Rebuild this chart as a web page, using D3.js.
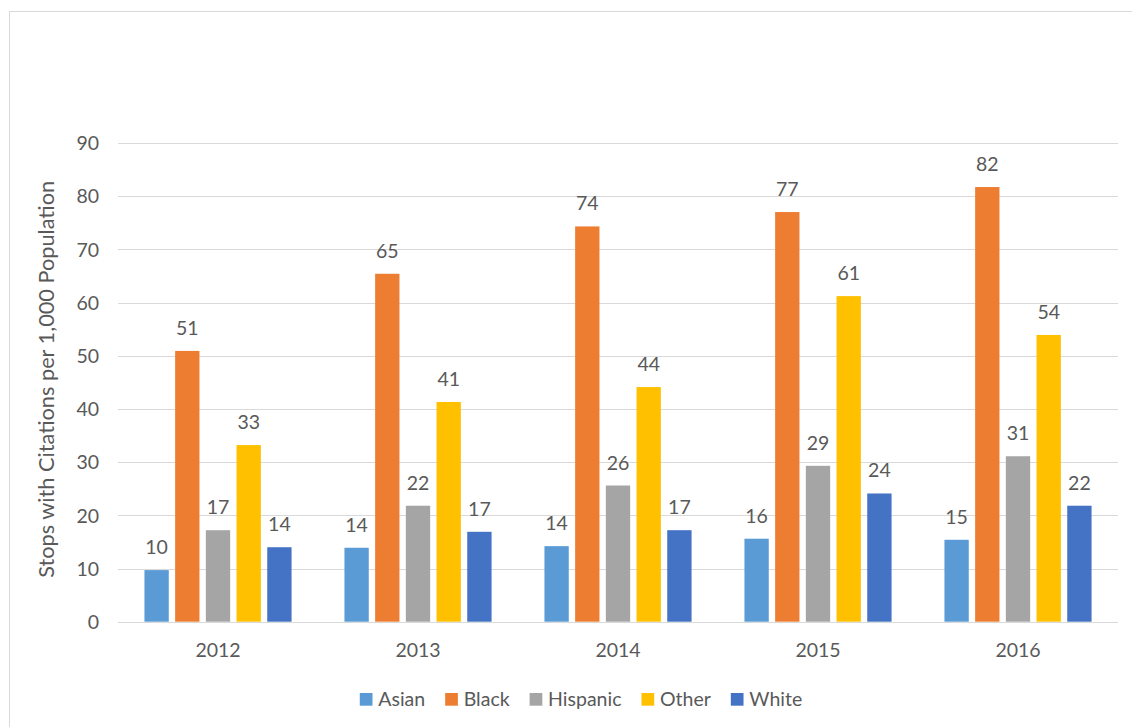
<!DOCTYPE html>
<html>
<head>
<meta charset="utf-8">
<script src="https://cdn.jsdelivr.net/npm/d3@7"></script>
<style>
  html, body { margin: 0; padding: 0; background: #ffffff; }
  svg { display: block; }
  text { font-family: Lato, "Open Sans", sans-serif; fill: #595959; }
</style>
</head>
<body>
<svg id="chart" width="1132" height="727"></svg>
<script>
// ---- data ----
const years = ["2012", "2013", "2014", "2015", "2016"];
const series = ["Asian", "Black", "Hispanic", "Other", "White"];
const colors = ["#5B9BD5", "#ED7D31", "#A5A5A5", "#FFC000", "#4472C4"];
const asian    = [9.7, 13.9, 14.2, 15.6, 15.4];
const black    = [50.9, 65.4, 74.3, 77.0, 81.7];
const hispanic = [17.2, 21.8, 25.6, 29.3, 31.1];
const other    = [33.2, 41.3, 44.1, 61.2, 53.9];
const white    = [14.0, 16.9, 17.2, 24.1, 21.8];
const yTicks = [0, 10, 20, 30, 40, 50, 60, 70, 80, 90];
const yTitle = "Stops with Citations per 1,000 Population";

const values = [asian, black, hispanic, other, white];

// ---- layout ----
const svg = d3.select("#chart");
const plot = { left: 118, right: 1118, top: 142.9, bottom: 621.7 };
const fontSize = 19.5;

// chart border
svg.append("rect")
  .attr("x", 9.5).attr("y", 11.5)
  .attr("width", 1200).attr("height", 800)
  .attr("fill", "#ffffff").attr("stroke", "#D9D9D9").attr("stroke-width", 1);

const x = d3.scaleBand().domain(years).range([plot.left, plot.right]).padding(0);
const groupHalf = 76.75;
const xs = d3.scaleBand().domain(series).range([-groupHalf, groupHalf])
  .paddingInner(0.208).paddingOuter(0.104);
const y = d3.scaleLinear().domain([0, 90]).range([plot.bottom, plot.top]);

// gridlines
svg.append("g").selectAll("line").data(yTicks).join("line")
  .attr("x1", plot.left).attr("x2", plot.right)
  .attr("y1", d => Math.round(y(d)) + 0.5).attr("y2", d => Math.round(y(d)) + 0.5)
  .attr("stroke", "#D9D9D9").attr("stroke-width", 1);

// y axis labels
const yAxis = d3.axisLeft(y).tickValues(yTicks).tickSize(0).tickPadding(0);
const gy = svg.append("g").attr("transform", `translate(${99},0)`).call(yAxis);
gy.select(".domain").remove();
gy.selectAll("text").attr("font-size", fontSize).attr("font-family", "Lato, sans-serif")
  .attr("fill", "#595959").attr("dy", "0.35em");

// x axis labels
const xAxis = d3.axisBottom(x).tickSize(0).tickPadding(0);
const gx = svg.append("g").attr("transform", `translate(0,${657})`).call(xAxis);
gx.select(".domain").remove();
gx.selectAll("text").attr("font-size", fontSize).attr("font-family", "Lato, sans-serif")
  .attr("fill", "#595959").attr("dy", 0).attr("y", 0);

// bars
const groups = svg.append("g").selectAll("g").data(years).join("g")
  .attr("transform", d => `translate(${x(d) + x.bandwidth() / 2},0)`);

groups.each(function (yr, yi) {
  const g = d3.select(this);
  const rows = series.map((s, si) => ({ s, si, v: values[si][yi] }));
  g.selectAll("rect").data(rows).join("rect")
    .attr("x", d => xs(d.s))
    .attr("width", xs.bandwidth())
    .attr("y", d => y(d.v))
    .attr("height", d => y(0) - y(d.v))
    .attr("fill", d => colors[d.si]);
  g.selectAll("text").data(rows).join("text")
    .attr("x", d => xs(d.s) + xs.bandwidth() / 2)
    .attr("y", d => y(d.v) - 16)
    .attr("text-anchor", "middle")
    .attr("font-size", fontSize)
    .text(d => Math.round(d.v));
});

// y title (scaled so that its length matches the original ~397px)
const title = svg.append("text")
  .attr("transform", `translate(54,${(plot.top + plot.bottom) / 2 - 3}) rotate(-90)`)
  .attr("text-anchor", "middle")
  .attr("font-size", fontSize)
  .text(yTitle);
const tl = title.node().getComputedTextLength();
if (tl > 0) title.attr("font-size", Math.min(22, fontSize * 397 / tl));

// legend
const legend = svg.append("g");
let cx = 0;
series.forEach((s, i) => {
  const it = legend.append("g");
  it.append("rect").attr("x", 0).attr("y", -12.5).attr("width", 12.7).attr("height", 12.7)
    .attr("fill", colors[i]);
  const t = it.append("text").attr("x", 18.5).attr("y", 0).attr("font-size", 19.5).text(s);
  const w = 18.5 + t.node().getComputedTextLength();
  it.attr("transform", `translate(${cx},0)`);
  cx += w + 20;
});
const totalW = cx - 20;
legend.attr("transform", `translate(${581 - totalW / 2},${705.5})`);
</script>
</body>
</html>
